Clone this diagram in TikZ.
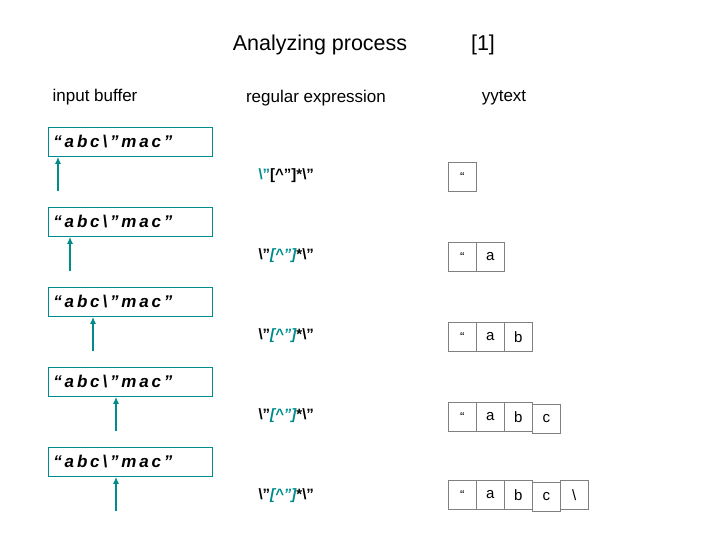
\documentclass[tikz,border=0pt]{standalone}
\usepackage{fontspec}
\usetikzlibrary{arrows.meta}
\setmainfont{Liberation Sans}
\definecolor{tl}{RGB}{0,140,140}
\begin{document}
\begin{tikzpicture}[x=1pt,y=-1pt,
  buf/.style={draw=tl,line width=0.8pt,minimum width=164pt,text width=154pt,align=left,minimum height=29pt,anchor=north west,inner xsep=5pt,inner ysep=0pt,font=\fontsize{17}{19}\selectfont\bfseries\itshape},
  cell/.style={draw=gray,line width=0.6pt,minimum width=28pt,minimum height=29pt,anchor=north west,inner sep=0pt,font=\fontsize{15}{17}\selectfont},
  rx/.style={font=\fontsize{15}{17}\selectfont\bfseries, anchor=west},
  ptr/.style={draw=tl,line width=2pt,-{Latex[length=7pt,width=6pt]}}]
\useasboundingbox (0,0) rectangle (720,540);
\node[font=\fontsize{21.5}{24}\selectfont] (t) at (320,45) {Analyzing process};
\node[font=\fontsize{21.5}{24}\selectfont] (r) at (483,45) {[1]};
\node[font=\fontsize{17}{19}\selectfont] (h1) at (95,97) {input buffer};
\node[font=\fontsize{17}{19}\selectfont] (h2) at (316,98) {regular expression};
\node[font=\fontsize{17}{19}\selectfont] (h3) at (504,98) {yytext};
\foreach \i/\ax in {0/58,1/70,2/93,3/116,4/116}{
  \node[buf] (b\i) at (48,{127+80*\i}) {“\,a\,b\,c\,\textbackslash\,”\,m\,a\,c\,”};
  \coordinate (p\i) at (\ax,{191+80*\i});
  \draw[ptr] (p\i) -- (p\i |- b\i.south);
}
\node[rx] (e0) at (255,176) {\textcolor{tl}{\textbackslash"}[\textasciicircum"]*\textbackslash"};
\foreach \i in {1,2,3,4}{
  \node[rx] (e\i) at (255,{176+80*\i}) {\textbackslash"\textcolor{tl}{\itshape[\textasciicircum"]}*\textbackslash"};
}
\node[cell] (q0) at (448,162) {\fontsize{13}{14}\selectfont“};
\node[cell] (q1) at (448,242) {\fontsize{13}{14}\selectfont“};
\node[cell] (a1) at (476,242) {a};
\node[cell] (q2) at (448,322) {\fontsize{13}{14}\selectfont“};
\node[cell] (a2) at (476,322) {a};
\node[cell] (b2) at (504,322) {b};
\node[cell] (q3) at (448,402) {\fontsize{13}{14}\selectfont“};
\node[cell] (a3) at (476,402) {a};
\node[cell] (b3) at (504,402) {b};
\node[cell] (c3) at (532,404) {c};
\node[cell] (q4) at (448,480) {\fontsize{13}{14}\selectfont“};
\node[cell] (a4) at (476,480) {a};
\node[cell] (b4) at (504,480) {b};
\node[cell] (c4) at (532,482) {c};
\node[cell] (s4) at (560,480) {\textbackslash};
\end{tikzpicture}
\end{document}
